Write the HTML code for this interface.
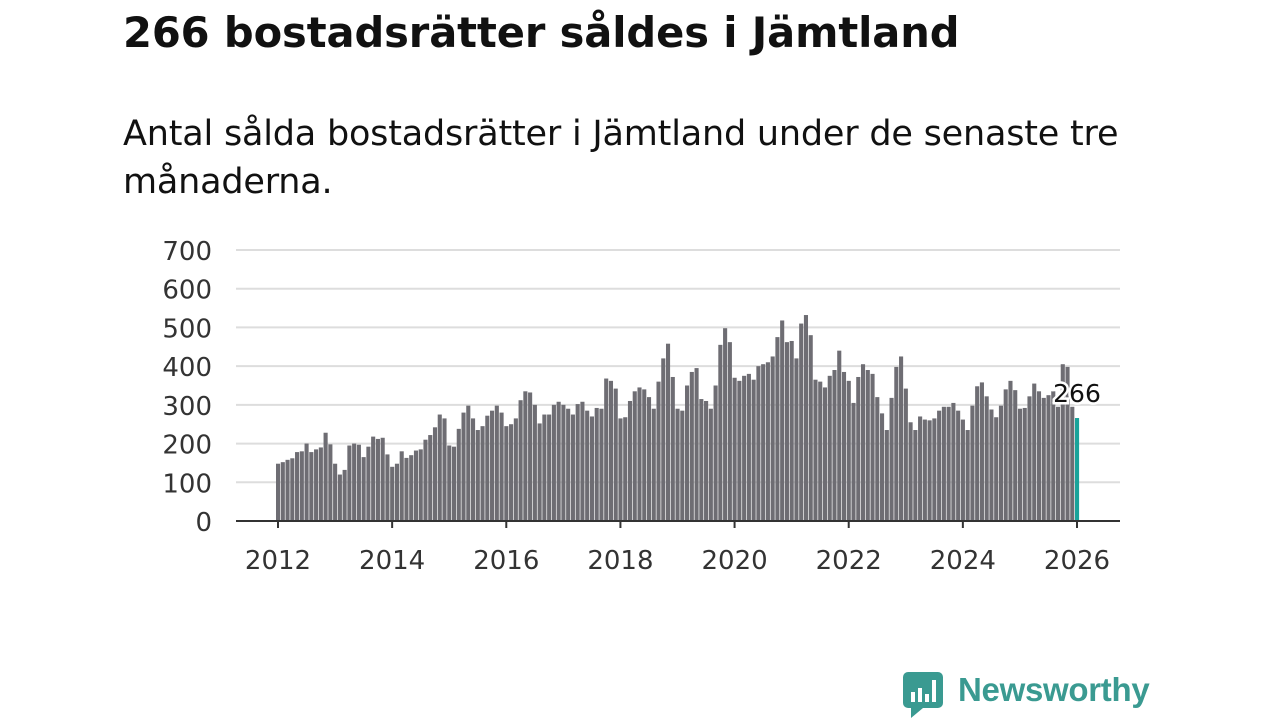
<!DOCTYPE html>
<html><head><meta charset="utf-8"><style>
body{margin:0;width:1280px;height:720px;background:#fff;font-family:"Liberation Sans","DejaVu Sans",sans-serif;overflow:hidden;position:relative}
h1{position:absolute;left:123px;top:8px;margin:0;font-size:41.6px;font-weight:bold;color:#111;font-family:"DejaVu Sans","Liberation Sans",sans-serif;letter-spacing:-0.1px}
p{position:absolute;left:123px;top:110px;margin:0;font-size:35px;line-height:48px;color:#111;width:1120px;font-family:"DejaVu Sans","Liberation Sans",sans-serif;font-weight:normal;letter-spacing:-0.2px}
svg{position:absolute;left:0;top:0}
</style></head><body>
<h1>266 bostadsrätter såldes i Jämtland</h1>
<p>Antal sålda bostadsrätter i Jämtland under de senaste tre månaderna.</p>
<svg id="chart" width="1280" height="720"></svg>
<div style="position:absolute;left:903px;top:670px;">
<svg width="42" height="50" style="position:static"><rect x="0" y="2" width="40" height="36" rx="5" fill="#3a9a91"/><polygon points="8,38 20,38 8,48" fill="#3a9a91"/><rect x="8" y="22" width="4" height="10" fill="#fff"/><rect x="15" y="18" width="4" height="14" fill="#fff"/><rect x="22" y="24" width="4" height="8" fill="#fff"/><rect x="29" y="10" width="4" height="22" fill="#fff"/></svg>
<span style="position:absolute;left:55px;top:1px;font-size:33px;color:#3a9a91;font-weight:bold;font-family:'Liberation Sans',sans-serif;letter-spacing:-0.3px">Newsworthy</span>
</div>
<script>
const yTicks=[0,100,200,300,400,500,600,700];
const xTicks=[2012,2014,2016,2018,2020,2022,2024,2026];
const values=[
148,152,158,162,178,180,200,178,185,190,228,198,
148,120,132,195,200,197,165,192,218,212,215,172,
140,148,180,163,170,182,185,210,222,242,275,265,
195,192,238,280,298,265,235,245,272,285,298,280,
245,250,265,312,335,332,300,252,275,275,300,308,
300,290,275,302,308,285,270,292,290,368,362,342,
265,268,310,335,345,340,320,290,360,420,458,372,
290,285,350,385,395,315,310,290,350,455,498,462,
370,362,375,380,365,400,405,410,425,475,518,462,
465,420,510,532,480,365,360,345,375,390,440,385,
362,305,372,405,390,380,320,278,235,318,398,425,
342,255,235,270,262,260,265,285,295,295,305,285,
262,235,298,348,358,322,288,268,298,340,362,338,
290,292,322,355,335,318,325,335,295,405,398,295,
266];
const startYear=2012;
const ns="http://www.w3.org/2000/svg";
const svg=document.getElementById('chart');
const y=v=>521-v*(271/700);
const x=t=>278+(t-startYear)*(799/14);
function mk(tag,attrs){const e=document.createElementNS(ns,tag);for(const k in attrs)e.setAttribute(k,attrs[k]);svg.appendChild(e);return e;}
yTicks.forEach(t=>{
  if(t>0){const g=mk('line',{x1:236,x2:1120,y1:y(t),y2:y(t),stroke:'#ddd','stroke-width':2});
  
  }
  const l=mk('text',{x:212,y:y(t)+10,'text-anchor':'end','font-size':26,fill:'#333','font-family':'DejaVu Sans, sans-serif'});
  l.textContent=t;
  
  
});
values.forEach((v,i)=>{
  const cx=x(startYear+i/12);
  const last=i===values.length-1;
  const r=mk('rect',{x:cx-2,y:y(v),width:4.1,height:y(0)-y(v),fill:last?'#1aa39a':'#6e6d73'});
  
  
});
const ax=mk('line',{x1:236,x2:1120,y1:521,y2:521,stroke:'#333','stroke-width':2});


xTicks.forEach(t=>{
  const tk=mk('line',{x1:x(t),x2:x(t),y1:521,y2:528,stroke:'#333','stroke-width':2});
  
  
  const l=mk('text',{x:x(t),y:569,'text-anchor':'middle','font-size':26,fill:'#333','font-family':'DejaVu Sans, sans-serif'});
  l.textContent=t;
  
  
});
const lv=values[values.length-1];
const lb=mk('text',{x:x(startYear+(values.length-1)/12),y:y(lv)-16,'text-anchor':'middle','font-size':25,fill:'#111',stroke:'#fff','stroke-width':5,'paint-order':'stroke','font-family':'DejaVu Sans, sans-serif'});
lb.textContent=lv;


</script>
</body></html>
